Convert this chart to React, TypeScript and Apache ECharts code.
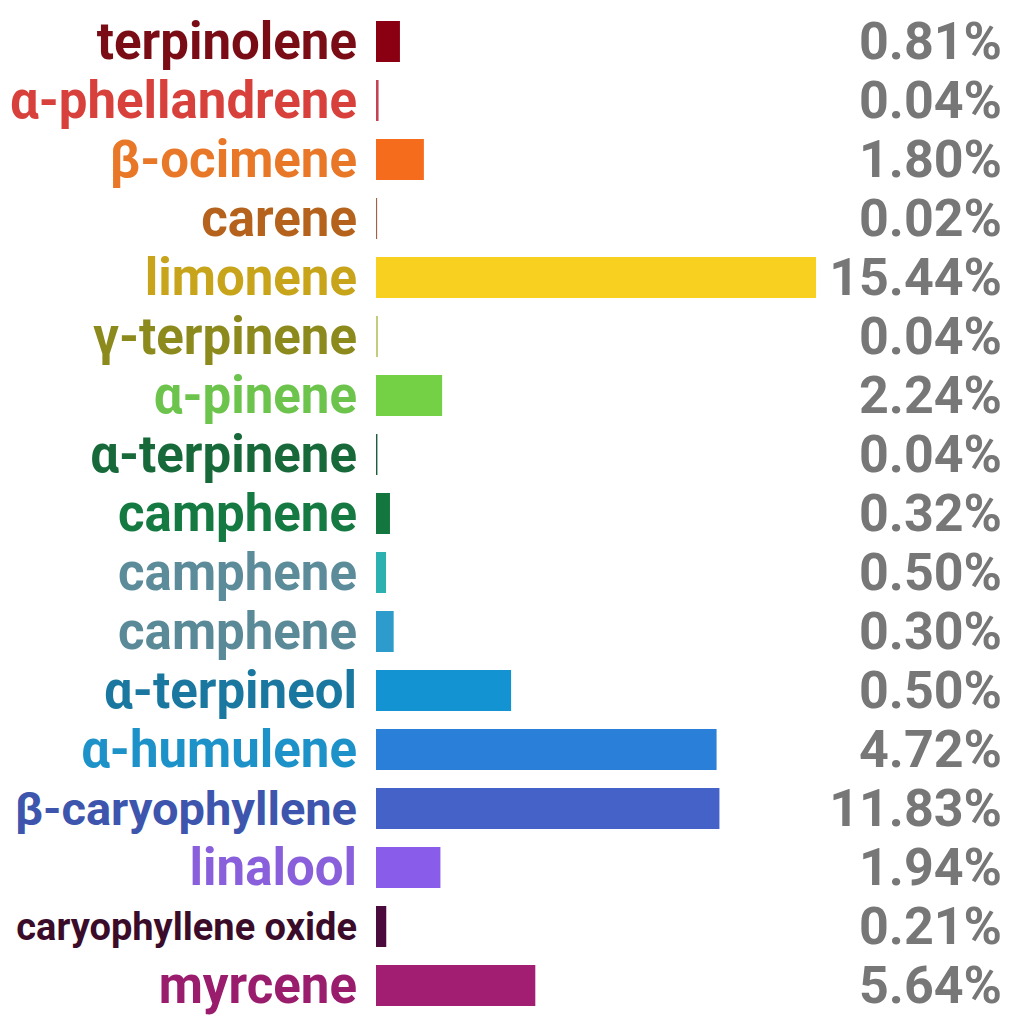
import * as echarts from 'echarts'
import { useEffect, useRef } from 'react'

// terpene names, top to bottom
const terpenes = [
  'terpinolene',
  'α-phellandrene',
  'β-ocimene',
  'carene',
  'limonene',
  'γ-terpinene',
  'α-pinene',
  'α-terpinene',
  'camphene',
  'camphene',
  'camphene',
  'α-terpineol',
  'α-humulene',
  'β-caryophyllene',
  'linalool',
  'caryophyllene oxide',
  'myrcene',
]

// bar lengths as drawn (in % units)
const barValues = [
  0.84, 0.09, 1.68, 0.04, 15.44, 0.07, 2.32, 0.05, 0.49, 0.35, 0.62, 4.74, 11.95, 12.05, 2.26, 0.36, 5.59,
]

// printed percentages on the right
const percentLabels = [
  '0.81%', '0.04%', '1.80%', '0.02%', '15.44%', '0.04%', '2.24%', '0.04%', '0.32%', '0.50%', '0.30%',
  '0.50%', '4.72%', '11.83%', '1.94%', '0.21%', '5.64%',
]

const labelColors = [
  '#7a0c16', '#d8403c', '#e97728', '#b4621c', '#c8a41a', '#8c8a1c', '#6cc44c', '#17693a', '#157a42',
  '#5c8c9a', '#5a8a98', '#1a78a0', '#1d92c9', '#3d55ad', '#8a5fdc', '#3a0c2a', '#9a1c6c',
]

const barColors = [
  '#8a0012', '#c24454', '#f46c1c', '#a46042', '#f8d020', '#c4cc7c', '#74d044', '#1d5c3c', '#13763f',
  '#2cb0b0', '#2d9ccc', '#1493d2', '#2a80d8', '#4462c8', '#8a5cea', '#4a0a3c', '#a21e72',
]

export default function App() {
  const chartRef = useRef<HTMLDivElement>(null)

  useEffect(() => {
    if (!chartRef.current) return
    const chart = echarts.init(chartRef.current, undefined, { renderer: 'svg' })

    const rich: any = {}
    terpenes.forEach((name, i) => {
      rich['r' + i] = {
        color: labelColors[i],
        fontSize: name.length > 16 ? 38 : name.startsWith('β-c') ? 47 : 51,
        fontWeight: 'bold',
        fontFamily: 'Roboto',
      }
    })

    const option: any = {
      animation: false,
      backgroundColor: '#ffffff',
      grid: { left: 376, top: 12, width: 456, height: 1003, outerBoundsMode: 'none', containLabel: false },
      xAxis: {
        type: 'value',
        min: 0,
        max: 16,
        show: false,
      },
      yAxis: [
        {
          type: 'category',
          inverse: true,
          data: terpenes,
          axisLine: { show: false },
          axisTick: { show: false },
          splitLine: { show: false },
          axisLabel: {
            interval: 0,
            margin: 19,
            formatter: (value: string, index: number) => `{r${index}|${value}}`,
            rich,
          },
        },
        {
          type: 'category',
          inverse: true,
          position: 'right',
          data: percentLabels,
          axisLine: { show: false },
          axisTick: { show: false },
          splitLine: { show: false },
          axisLabel: {
            interval: 0,
            margin: 170,
            align: 'right',
            color: '#777777',
            fontSize: 52,
            fontWeight: 'bold',
            fontFamily: 'Roboto',
          },
        },
      ],
      series: [
        {
          type: 'bar',
          yAxisIndex: 0,
          barWidth: 41,
          data: barValues.map((v, i) => ({
            value: v,
            itemStyle: { color: barColors[i] },
          })),
        },
      ],
    }

    chart.setOption(option)
    return () => {
      chart.dispose()
    }
  }, [])

  return (
    <div
      ref={chartRef}
      style={{ position: 'fixed', left: 0, top: 0, width: '1024px', height: '1024px' }}
    />
  )
}
